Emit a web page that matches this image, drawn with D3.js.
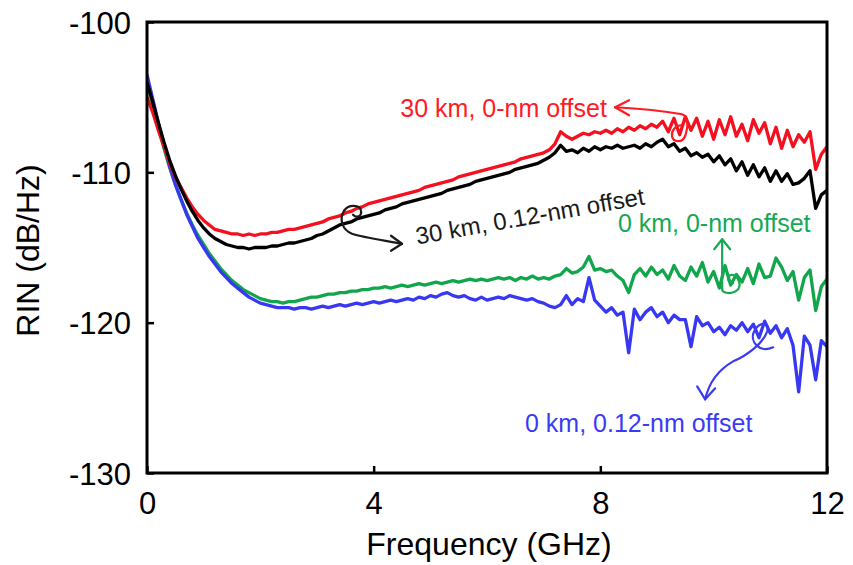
<!DOCTYPE html>
<html>
<head>
<meta charset="utf-8">
<script src="https://cdn.jsdelivr.net/npm/d3@7/dist/d3.min.js"></script>
<style>
  html, body { margin: 0; padding: 0; background: #fff; }
  svg { display: block; font-family: Arial, "Liberation Sans", Helvetica, sans-serif; }
</style>
</head>
<body>
<svg id="chart" width="853" height="565"></svg>
<script>
// Frequency grid (GHz), 0.1 GHz spacing
const freq = d3.range(0, 121).map(i => +(i * 0.1).toFixed(1));

// RIN traces (dB/Hz)
const rin30km0nm = [
  -105.0, -106.0, -107.2, -108.3, -109.4, -110.3, -111.0, -111.7, -112.3, -112.8,
  -113.2, -113.5, -113.8, -113.9, -114.0, -114.1, -114.1, -114.2, -114.1, -114.2,
  -114.1, -114.1, -114.0, -114.0, -113.9, -113.8, -113.8, -113.7, -113.6, -113.5,
  -113.4, -113.3, -113.1, -113.0, -112.9, -112.7, -112.6, -112.4, -112.3, -112.1,
  -112.0, -111.9, -111.8, -111.7, -111.6, -111.5, -111.4, -111.3, -111.2, -111.0,
  -110.9, -110.8, -110.7, -110.6, -110.5, -110.3, -110.2, -110.1, -110.0, -109.9,
  -109.8, -109.7, -109.6, -109.5, -109.4, -109.3, -109.1, -109.0, -108.9, -108.8,
  -108.7, -108.5, -108.1, -107.3, -107.6, -107.8, -107.6, -107.4, -107.5, -107.3,
  -107.4, -107.2, -107.4, -107.1, -107.3, -107.0, -107.2, -106.9, -107.1, -106.8,
  -107.0, -106.6, -107.3, -106.4, -107.5, -106.3, -107.2, -106.4, -107.6, -106.6,
  -107.8, -106.5, -107.5, -106.3, -107.6, -106.8, -107.9, -106.5, -107.4, -106.7,
  -108.1, -107.0, -108.4, -107.2, -108.3, -107.5, -108.0, -107.3, -109.8, -108.8,
  -108.3
];
const rin30km012nm = [
  -104.0, -105.3, -106.7, -108.0, -109.2, -110.2, -111.1, -111.9, -112.6, -113.2,
  -113.7, -114.1, -114.4, -114.6, -114.8, -114.9, -115.0, -115.0, -115.1, -115.0,
  -115.0, -115.0, -114.9, -114.9, -114.8, -114.7, -114.7, -114.6, -114.5, -114.4,
  -114.2, -114.1, -113.9, -113.7, -113.5, -113.4, -113.3, -113.1, -113.0, -112.9,
  -112.8, -112.7, -112.5, -112.4, -112.3, -112.1, -112.0, -111.9, -111.8, -111.7,
  -111.6, -111.5, -111.4, -111.2, -111.1, -111.0, -110.9, -110.8, -110.6, -110.5,
  -110.4, -110.3, -110.2, -110.1, -110.0, -109.8, -109.7, -109.6, -109.5, -109.4,
  -109.2, -109.0, -108.7, -108.2, -108.6, -108.5, -108.7, -108.4, -108.6, -108.3,
  -108.5, -108.3, -108.4, -108.2, -108.4, -108.3, -108.2, -108.4, -108.1, -108.3,
  -108.0, -107.8, -108.3, -108.1, -108.6, -108.4, -108.9, -108.7, -109.0, -108.8,
  -109.3, -108.9, -109.5, -109.1, -109.9, -109.3, -110.2, -109.5, -110.3, -109.7,
  -110.6, -109.9, -110.6, -110.1, -110.8, -110.7, -110.4, -109.9, -112.4, -111.5,
  -111.2
];
const rin0km0nm = [
  -104.0, -105.5, -107.0, -108.4, -109.7, -110.8, -111.8, -112.7, -113.5, -114.2,
  -114.8, -115.4, -115.9, -116.4, -116.8, -117.2, -117.5, -117.8, -118.0, -118.2,
  -118.4, -118.5, -118.6, -118.6, -118.7, -118.6, -118.6, -118.5, -118.4, -118.3,
  -118.3, -118.2, -118.1, -118.1, -118.0, -118.0, -117.9, -117.9, -117.8, -117.8,
  -117.7, -117.7, -117.6, -117.7, -117.6, -117.5, -117.6, -117.5, -117.4, -117.5,
  -117.4, -117.3, -117.4, -117.3, -117.2, -117.3, -117.2, -117.1, -117.2, -117.1,
  -117.2, -117.1, -117.0, -117.1, -117.0, -117.2, -117.0, -117.1, -116.9, -117.1,
  -117.0, -117.1, -116.9, -116.8, -116.4, -116.7, -116.6, -116.3, -115.6, -116.5,
  -116.4, -116.6, -116.5, -116.9, -117.2, -118.0, -116.8, -116.4, -116.9, -116.3,
  -116.8, -116.5, -117.1, -116.2, -116.9, -117.2, -116.3, -116.9, -116.0, -117.3,
  -116.6, -117.7, -116.2, -117.5, -116.8, -117.3, -116.4, -117.4, -116.1, -117.0,
  -116.9, -115.7, -116.3, -117.2, -116.6, -118.5, -117.0, -116.5, -119.2, -117.6,
  -117.1
];
const rin0km012nm = [
  -103.5, -105.1, -106.7, -108.2, -109.6, -110.8, -111.8, -112.8, -113.6, -114.4,
  -115.0, -115.6, -116.1, -116.6, -117.0, -117.4, -117.7, -118.0, -118.3, -118.5,
  -118.7, -118.8, -118.9, -119.0, -119.0, -119.0, -119.1, -119.0, -119.0, -119.1,
  -119.0, -118.9, -119.0, -118.9, -118.8, -118.9, -118.8, -118.7, -118.8, -118.7,
  -118.6, -118.7, -118.6, -118.5, -118.6, -118.5, -118.4, -118.5, -118.3, -118.4,
  -118.2, -118.3, -118.1, -118.0, -118.2, -118.3, -118.2, -118.4, -118.5, -118.3,
  -118.5, -118.4, -118.3, -118.4, -118.2, -118.3, -118.4, -118.5, -118.4, -118.6,
  -118.7, -118.9, -119.0, -118.8, -118.2, -118.8, -118.4, -118.6, -117.0, -118.5,
  -118.9, -119.3, -119.0, -119.5, -119.3, -122.0, -119.1, -119.8, -119.3, -119.0,
  -119.6, -119.3, -120.0, -119.5, -119.8, -119.8, -121.6, -119.6, -120.2, -120.0,
  -120.6, -120.3, -120.8, -120.2, -120.5, -120.0, -120.6, -120.1, -121.0, -119.9,
  -120.7, -120.2, -121.0, -120.4, -121.5, -124.6, -120.9, -121.5, -123.8, -121.2,
  -121.6
];

// Axis ticks
const xTicks = [0, 4, 8, 12];
const yTicks = [-130, -120, -110, -100];

// Series styling and labels
const series = [
  { name: "0 km, 0-nm offset",     values: rin0km0nm,    color: "#12a64c" },
  { name: "0 km, 0.12-nm offset",  values: rin0km012nm,  color: "#3838f2" },
  { name: "30 km, 0-nm offset",    values: rin30km0nm,   color: "#f5101f" },
  { name: "30 km, 0.12-nm offset", values: rin30km012nm, color: "#000000" }
];

const svg = d3.select("#chart");
const plot = { left: 147, right: 827, top: 22, bottom: 473 };

const x = d3.scaleLinear().domain([0, 12]).range([plot.left, plot.right]);
const y = d3.scaleLinear().domain([-130, -100]).range([plot.bottom, plot.top]);

svg.append("defs").append("clipPath").attr("id", "plotclip")
  .append("rect")
  .attr("x", plot.left).attr("y", plot.top)
  .attr("width", plot.right - plot.left).attr("height", plot.bottom - plot.top);

// Traces
const line = d3.line().x((d, i) => x(freq[i])).y(d => y(d));
const traces = svg.append("g").attr("clip-path", "url(#plotclip)");
series.forEach(s => {
  traces.append("path")
    .datum(s.values)
    .attr("d", line)
    .attr("fill", "none")
    .attr("stroke", s.color)
    .attr("stroke-width", 3.3)
    .attr("stroke-linejoin", "round");
});

// Axes with inward ticks, plain hyphen minus in labels
const fmt = d => String(d);
const yAxis = d3.axisLeft(y).tickValues(yTicks).tickFormat(fmt).tickSizeInner(-7).tickSizeOuter(0).tickPadding(16);
const xAxis = d3.axisBottom(x).tickValues(xTicks).tickFormat(fmt).tickSizeInner(-7).tickSizeOuter(0).tickPadding(19);

const gy = svg.append("g").attr("transform", `translate(${plot.left},0)`).call(yAxis);
const gx = svg.append("g").attr("transform", `translate(0,${plot.bottom})`).call(xAxis);
[gy, gx].forEach(g => {
  g.select(".domain").remove();
  g.selectAll(".tick line").attr("stroke", "#000").attr("stroke-width", 2.5);
  g.selectAll(".tick text").attr("fill", "#000").attr("font-size", 31)
    .attr("font-family", "Arial, 'Liberation Sans', sans-serif");
});
gy.selectAll(".tick text").attr("dy", "0.36em");
gx.selectAll(".tick text").attr("dy", "0.71em");

// Frame
svg.append("rect")
  .attr("x", plot.left).attr("y", plot.top)
  .attr("width", plot.right - plot.left).attr("height", plot.bottom - plot.top)
  .attr("fill", "none").attr("stroke", "#000").attr("stroke-width", 3);

// Axis titles
svg.append("text")
  .attr("x", (plot.left + plot.right) / 2 + 2).attr("y", 555)
  .attr("text-anchor", "middle").attr("font-size", 32).attr("fill", "#000")
  .text("Frequency (GHz)");
svg.append("text")
  .attr("transform", `translate(39,${(plot.top + plot.bottom) / 2 + 3}) rotate(-90)`)
  .attr("text-anchor", "middle").attr("font-size", 32).attr("fill", "#000")
  .text("RIN (dB/Hz)");

// Callouts: label anchor in data units, hand-drawn arrow as pixel offsets from the arrow tip
const callouts = [
  { label: "30 km, 0-nm offset", color: "#ff1a24", at: [4.47, -106.3], rotate: 0, size: 25,
    anchor: [8.26, -105.67],
    arrow: "M0,0 C20,1 45,3 67,7 C74,9 73,20 70,29 C67,36 58,35 57,29 C56,23 61,18 66,18",
    head: "M14,-7 L0,0 L14,8" },
  { label: "30 km, 0.12-nm offset", color: "#1a1a1a", at: [4.77, -114.8], rotate: -10, size: 24,
    anchor: [4.50, -114.75],
    arrow: "M0,0 C-15,-3 -38,-6 -50,-10 C-60,-14 -63,-25 -58,-33 C-53,-40 -42,-39 -41,-33 C-40,-28 -45,-25 -49,-29",
    head: "M-11,-8 L0,0 L-11,7" },
  { label: "0 km, 0-nm offset", color: "#16a854", at: [8.31, -114.0], rotate: 0, size: 25,
    anchor: [10.15, -114.45],
    arrow: "M0,0 C0,15 0,35 0,50 C0,54 10,56 16,50 C20,44 14,34 8,36 C4,38 6,44 11,44",
    head: "M-8,10 L0,0 L8,10" },
  { label: "0 km, 0.12-nm offset", color: "#3a3af5", at: [6.67, -127.25], rotate: 0, size: 25,
    anchor: [9.85, -125.1],
    arrow: "M0,0 C4,-18 14,-30 28,-38 C42,-44 58,-56 62,-68 C65,-78 54,-78 49,-68 C44,-58 54,-46 68,-52",
    head: "M-8,-13 L0,0 L10,-11" }
];

const notes = svg.append("g");
callouts.forEach(c => {
  const ax = x(c.anchor[0]), ay = y(c.anchor[1]);
  const g = notes.append("g").attr("transform", `translate(${ax},${ay})`)
    .attr("fill", "none").attr("stroke", c.color).attr("stroke-width", 2.2)
    .attr("stroke-linecap", "round").attr("stroke-linejoin", "round");
  g.append("path").attr("d", c.arrow);
  g.append("path").attr("d", c.head);
  notes.append("text")
    .attr("transform", `translate(${x(c.at[0])},${y(c.at[1])}) rotate(${c.rotate})`)
    .attr("font-size", c.size).attr("fill", c.color)
    .text(c.label);
});
</script>
</body>
</html>
